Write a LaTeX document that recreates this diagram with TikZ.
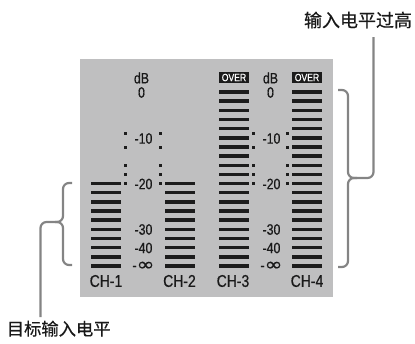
\documentclass[tikz,border=0pt]{standalone}
\usepackage{fontspec}
\setmainfont{Liberation Sans}
\newfontfamily\cond[FakeStretch=0.82,FakeBold=0.5]{Liberation Sans}
\newfontfamily\infont[FakeStretch=1.2,FakeBold=0.5]{DejaVu Sans}
\newfontfamily\cjk[FakeBold=0.6]{Noto Sans CJK SC}
\definecolor{panel}{RGB}{191,191,192}
\definecolor{barc}{RGB}{28,28,28}
\definecolor{lead}{RGB}{132,132,132}
\definecolor{txt}{RGB}{25,25,25}
\begin{document}
\begin{tikzpicture}[x=1pt,y=-1pt,
  scl/.style={font=\cond\fontsize{15}{15}\selectfont, text=txt, inner sep=0pt, anchor=center},
  chl/.style={font=\cond\fontsize{17}{17}\selectfont, text=txt, inner sep=0pt, anchor=center},
  overbox/.style={fill=barc, text=white, font=\cond\fontsize{10.5}{10.5}\selectfont, minimum width=30pt, minimum height=10.5pt, inner sep=0pt},
  leader/.style={draw=lead, line width=2.2pt, rounded corners=6pt},
  cjklab/.style={font=\cjk\fontsize{18}{18}\selectfont, text=txt, inner sep=0pt}
]
\useasboundingbox (0,0) rectangle (415,343);
\fill[panel] (80,59) rectangle (333,297);
% bars
\foreach \i in {1,...,20}{
  \pgfmathsetmacro\yy{92+(\i-1)*9.158}
  \fill[barc] (219,{\yy-1.75}) rectangle (249,{\yy+1.75});
  \fill[barc] (292,{\yy-1.75}) rectangle (322,{\yy+1.75});
}
\foreach \i in {11,...,20}{
  \pgfmathsetmacro\yy{92+(\i-1)*9.158}
  \fill[barc] (91,{\yy-1.75}) rectangle (121,{\yy+1.75});
  \fill[barc] (165,{\yy-1.75}) rectangle (195,{\yy+1.75});
}
% dotted marks
\foreach \x in {125.5,160.5,253.5,287.5}{
  \foreach \y in {133,147,165,174,183}{
    \fill[barc] ({\x-1.5},{\y-1.5}) rectangle ({\x+1.5},{\y+1.5});
  }
}
% over boxes
\node[overbox] (ov3) at (234,77.5) {OVER};
\node[overbox] (ov4) at (307,77.5) {OVER};
% scale labels
\foreach \c/\n in {141.5/a,270.5/b}{
  \node[scl] (db\n) at (\c,78) {dB};
  \node[scl] (z\n) at (\c,92.5) {0};
}
\foreach \c/\n in {143.5/a,271.5/b}{
  \node[scl] (m10\n) at (\c,138.5) {-10};
  \node[scl] (m20\n) at (\c,184) {-20};
  \node[scl] (m30\n) at (\c,229.5) {-30};
  \node[scl] (m40\n) at (\c,248) {-40};
  \node[scl, anchor=base] (inf\n) at (\c,270.5) {-{\infont\fontsize{18}{18}\selectfont ∞}};
}
% channel labels
\node[chl] (ch1) at (106,281) {CH-1};
\node[chl] (ch2) at (179.5,281) {CH-2};
\node[chl] (ch3) at (233,281) {CH-3};
\node[chl] (ch4) at (307,281) {CH-4};
% captions
\node[cjklab] (title) at (358,20) {输入电平过高};
\node[cjklab, font=\cjk\fontsize{17.3}{17.3}\selectfont] (target) at (58.7,328.7) {目标输入电平};
\coordinate (rtop) at (373.5,37);
\coordinate (lbot) at (40.5,317);
% right brace and leader
\draw[leader] (338,90) -| (348,178) -| (rtop);
\draw[leader] (357,178) -| (348,267) -- (338,267);
% left brace and leader
\draw[leader] (72,183) -| (63,222) -| (lbot);
\draw[leader] (55,222) -| (63,265) -- (72,265);
\end{tikzpicture}
\end{document}
